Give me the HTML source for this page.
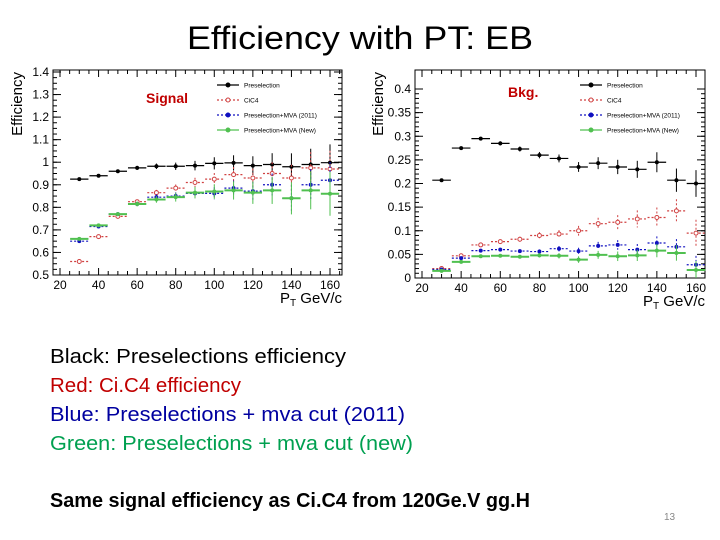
<!DOCTYPE html>
<html><head><meta charset="utf-8"><style>
html,body{margin:0;padding:0;background:#fff;}
svg{display:block;font-family:"Liberation Sans",sans-serif;}
</style></head><body>
<svg id="s" width="720" height="540" viewBox="0 0 720 540" xmlns="http://www.w3.org/2000/svg">
<text x="187" y="49" font-size="32" textLength="346" lengthAdjust="spacingAndGlyphs">Efficiency with PT: EB</text>
<g id="p1"></g>
<g id="p2"></g>
<text x="50" y="363" font-size="20" fill="#000" textLength="296" lengthAdjust="spacingAndGlyphs">Black:  Preselections efficiency</text>
<text x="50" y="392" font-size="20" fill="#c00000" textLength="191" lengthAdjust="spacingAndGlyphs">Red: Ci.C4 efficiency</text>
<text x="50" y="421" font-size="20" fill="#0000a0" textLength="355" lengthAdjust="spacingAndGlyphs">Blue: Preselections + mva cut (2011)</text>
<text x="50" y="450" font-size="20" fill="#00a050" textLength="363" lengthAdjust="spacingAndGlyphs">Green: Preselections + mva cut (new)</text>
<text x="50" y="507" font-size="20" font-weight="bold" textLength="480" lengthAdjust="spacingAndGlyphs">Same signal efficiency as Ci.C4  from 120Ge.V gg.H</text>
<text x="664" y="520" font-size="10" fill="#888">13</text>
</svg>
<script>
const categories=[30,40,50,60,70,80,90,100,110,120,130,140,150,160];
const sigBlack=[.925,.94,.96,.975,.982,.982,.985,.995,.997,.985,.99,.98,.99,.998];
const sigRed=[.56,.67,.76,.825,.865,.885,.91,.925,.945,.93,.95,.93,.975,.97];
const sigBlue=[.65,.715,.77,.815,.845,.85,.862,.862,.885,.872,.9,.84,.9,.92];
const sigGreen=[.66,.72,.77,.815,.835,.845,.865,.87,.875,.865,.875,.84,.875,.86];
const bkgBlack=[.207,.275,.295,.285,.273,.26,.253,.235,.243,.235,.23,.245,.207,.2];
const bkgRed=[.02,.047,.07,.077,.082,.09,.093,.1,.115,.118,.125,.128,.142,.095];
const bkgBlue=[.018,.042,.058,.06,.057,.056,.062,.057,.068,.07,.06,.074,.066,.028];
const bkgGreen=[.015,.034,.046,.047,.045,.048,.047,.039,.049,.046,.048,.058,.053,.017];
const xTicks=[20,40,60,80,100,120,140,160];
const sigYTicks=[0.5,0.6,0.7,0.8,0.9,1,1.1,1.2,1.3,1.4];
const sigYLabels=["0.5","0.6","0.7","0.8","0.9","1","1.1","1.2","1.3","1.4"];
const bkgYTicks=[0,0.05,0.1,0.15,0.2,0.25,0.3,0.35,0.4];
const bkgYLabels=["0","0.05","0.1","0.15","0.2","0.25","0.3","0.35","0.4"];
const legendLabels=["Preselection","CiC4","Preselection+MVA (2011)","Preselection+MVA (New)"];
const colors=["#000","#d04040","#1010c0","#50c050"];
const NS="http://www.w3.org/2000/svg";
function mk(parent,tag,attrs,name){const e=document.createElementNS(NS,tag);for(const k in attrs)e.setAttribute(k,attrs[k]);


parent.appendChild(e);return e;}
function plot(gid,cfg){
 const g=document.getElementById(gid);
 const X=v=>cfg.x0+(v-20)/140*(cfg.x1-cfg.x0);
 const Y=v=>cfg.yb-(v-cfg.ymin)/(cfg.ymax-cfg.ymin)*(cfg.yb-cfg.yt);
 const L=cfg.L,R=cfg.R,T=cfg.T,B=cfg.B;
 mk(g,'rect',{x:L,y:T,width:R-L,height:B-T,fill:'none',stroke:'#000','stroke-width':1},'plot-frame');
 for(let v=20;v<=165;v+=5){const big=v%20==0;const px=X(v);if(px>R)continue;
  mk(g,'line',{x1:px,x2:px,y1:B,y2:B-(big?7:4),stroke:'#000'},'x-tick');
  mk(g,'line',{x1:px,x2:px,y1:T,y2:T+(big?7:4),stroke:'#000'},'x-tick-top');}
 xTicks.forEach(v=>{const t=mk(g,'text',{x:X(v),y:B+14,'font-size':12,'text-anchor':'middle'},'x-tick-label');t.textContent=v;});
 cfg.ticks.forEach((v,i)=>{const py=Y(v);
  mk(g,'line',{x1:L,x2:L+8,y1:py,y2:py,stroke:'#000'},'y-tick');
  mk(g,'line',{x1:R,x2:R-8,y1:py,y2:py,stroke:'#000'},'y-tick-right');
  const t=mk(g,'text',{x:L-4,y:py+4,'font-size':12,'text-anchor':'end'},'y-tick-label');t.textContent=cfg.labels[i];});
 for(let v=cfg.ymin;v<=cfg.ymax+1e-9;v+=cfg.minor){const py=Y(v);
  mk(g,'line',{x1:L,x2:L+4,y1:py,y2:py,stroke:'#000'},'y-minor-tick');
  mk(g,'line',{x1:R,x2:R-4,y1:py,y2:py,stroke:'#000'},'y-minor-tick-right');}
 const xt=mk(g,'text',{x:R,y:B+28,'font-size':15,'text-anchor':'end'},'x-axis-title');xt.innerHTML='P<tspan font-size="10" dy="3">T</tspan><tspan dy="-3"> GeV/c</tspan>';
 const yt=mk(g,'text',{transform:`translate(${cfg.ytx},${T+2}) rotate(-90)`,'font-size':15,'text-anchor':'end'},'y-axis-title');yt.textContent='Efficiency';
 const lab=mk(g,'text',{x:cfg.lx,y:cfg.ly,'font-size':14,'font-weight':'bold',fill:'#c00000'},'plot-label');lab.textContent=cfg.label;
 cfg.series.forEach((s,si)=>{const c=colors[si];const dash=si==0||si==3?'':'2,2';
  s.forEach((v,i)=>{const cx=X(categories[i]),cy=Y(v);const hw=(X(25)-X(20))*0.95;
   const err=cfg.err[si]*(1+i*i*cfg.grow);
   mk(g,'line',{x1:cx-hw,x2:cx+hw,y1:cy,y2:cy,stroke:c,'stroke-width':si==3?2:1.2,'stroke-dasharray':dash},'error-bar-x');
   mk(g,'line',{x1:cx,x2:cx,y1:Y(v+err),y2:Y(Math.max(cfg.ymin,v-err)),stroke:c,'stroke-width':1,'stroke-dasharray':dash},'error-bar-y');
   if(si==1)mk(g,'circle',{cx:cx,cy:cy,r:2,fill:'#fff',stroke:c},'point');
   else mk(g,'circle',{cx:cx,cy:cy,r:2,fill:c},'point');});});
 legendLabels.forEach((l,i)=>{const ly=cfg.legy+i*15;const c=colors[i];
  mk(g,'line',{x1:cfg.legx,x2:cfg.legx+22,y1:ly,y2:ly,stroke:c,'stroke-width':1.2,'stroke-dasharray':(i==1||i==2)?'2,2':''},'legend-line');
  mk(g,'circle',{cx:cfg.legx+11,cy:ly,r:2,fill:i==1?'#fff':c,stroke:c},'legend-marker');
  const t=mk(g,'text',{x:cfg.legx+27,y:ly+2.5,'font-size':6.5},'legend-entry');t.textContent=l;});
}
plot('p1',{x0:60,x1:330,L:53,R:342,T:70,B:275,yt:72,yb:275,ymin:0.5,ymax:1.4,minor:0.025,ticks:sigYTicks,labels:sigYLabels,
 series:[sigBlack,sigRed,sigBlue,sigGreen],err:[0.005,0.005,0.005,0.006],grow:0.09,ytx:22,label:'Signal',lx:146,ly:103,legx:217,legy:85});
plot('p2',{x0:422,x1:696,L:415,R:705,T:70,B:278,yt:89,yb:278,ymin:0,ymax:0.4,minor:0.01,ticks:bkgYTicks,labels:bkgYLabels,
 series:[bkgBlack,bkgRed,bkgBlue,bkgGreen],err:[0.003,0.003,0.002,0.002],grow:0.05,ytx:383,label:'Bkg.',lx:508,ly:97,legx:580,legy:85});
</script>
</body></html>
